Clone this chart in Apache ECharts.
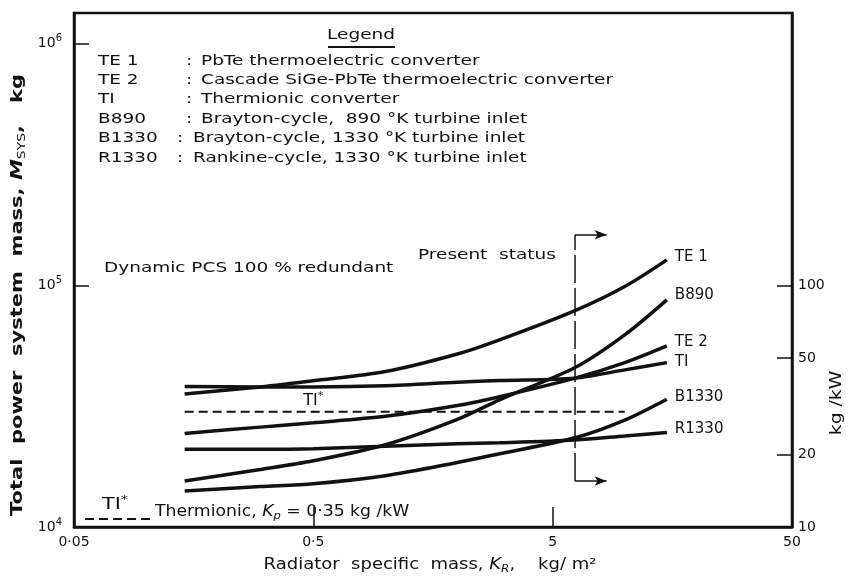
<!DOCTYPE html>
<html>
<head>
<meta charset="utf-8">
<script src="https://cdn.jsdelivr.net/npm/echarts@6/dist/echarts.min.js"></script>
<style>
  html, body { margin: 0; padding: 0; background: #fff; }
  #chart { width: 849px; height: 579px; }
</style>
</head>
<body>
<div id="chart"></div>
<script>
// radiator specific mass K_R (kg/m2) where the curves were read
const kR = [0.145, 0.3, 0.5, 1, 2, 3, 6.2, 10, 15];
// total power system mass M_SYS (kg)
const te1 = [35500, 38000, 40300, 44000, 52000, 59500, 78600, 98900, 127500];
const ti = [38100, 38000, 38000, 38400, 39700, 40400, 41300, 44700, 47900];
const te2 = [24400, 25900, 27000, 28700, 31800, 34600, 41300, 47900, 56200];
const b890 = [15500, 17300, 18800, 21900, 27900, 33600, 45700, 62400, 87100];
const b1330 = [14100, 14700, 15100, 16300, 18500, 20100, 23400, 27700, 33800];
const r1330 = [21000, 21000, 21100, 21600, 22100, 22300, 22900, 23800, 24600];
// TI* : thermionic, Kp = 0.35 kg/kW (dashed)
const tiStarX = [0.145, 0.5, 10];
const tiStarM = [30000, 30000, 30000];
// present status bracket
const statusX = 6.2;
const statusM = [15500, 162000];
const statusArrowX = 8.4;

const xTicks = [0.05, 0.5, 5, 50];
const yRange = [1e4, 1.34e6];
const rightTicks = [10, 20, 50, 100]; // kg/kW
const kWRef = 1000;

const legendRows = [
  ['TE 1', 'PbTe thermoelectric converter'],
  ['TE 2', 'Cascade SiGe-PbTe thermoelectric converter'],
  ['TI', 'Thermionic converter'],
  ['B890', 'Brayton-cycle,  890 °K turbine inlet'],
  ['B1330', 'Brayton-cycle, 1330 °K turbine inlet'],
  ['R1330', 'Rankine-cycle, 1330 °K turbine inlet']
];

const FONT = 'DejaVu Sans';
const INK = '#111';
const WIDE = 1.32; // the original lettering is much wider than DejaVu

const chart = echarts.init(document.getElementById('chart'));

const curve = (name, ys, dy) => ({
  name: name,
  type: 'line',
  xAxisIndex: 0,
  yAxisIndex: 0,
  data: kR.map((x, i) => [x, ys[i]]),
  smooth: 0.3,
  symbol: 'none',
  silent: true,
  lineStyle: { color: INK, width: 3.5 },
  endLabel: {
    show: true, formatter: name, color: INK,
    fontFamily: FONT, fontSize: 15, distance: 8, offset: [0, dy]
  },
  z: 3
});

const fmtDec = v => String(v).replace('.', '\u00b7');

const txt = (x, y, text, extra) => Object.assign({
  type: 'text', x: x, y: y, scaleX: WIDE,
  style: { text: text, font: '14px ' + FONT, fill: INK, verticalAlign: 'middle' }
}, extra || {});

const tiStarRich = {
  a: { fontSize: 16, fontFamily: FONT, color: INK, fill: INK },
  s: { fontSize: 11, fontFamily: FONT, color: INK, fill: INK, padding: [0, 0, 9, 0] }
};

// legend block
const legendGraphics = [
  txt(361, 35, 'Legend', { style: { text: 'Legend', font: '14px ' + FONT, fill: INK, align: 'center', verticalAlign: 'middle' } }),
  { type: 'line', shape: { x1: 328, y1: 47, x2: 395, y2: 47 }, style: { stroke: INK, lineWidth: 1.8 } }
];
legendRows.forEach((r, i) => {
  const y = 61 + i * 19.4;
  const long = r[0].length > 4;
  legendGraphics.push(
    txt(98, y, r[0]),
    txt(long ? 177 : 186, y, ':'),
    txt(long ? 193 : 201, y, r[1])
  );
});

chart.setOption({
  animation: false,
  backgroundColor: '#fff',
  grid: { left: 74, right: 57, top: 13, bottom: 52, show: true, borderColor: INK, borderWidth: 2.5, backgroundColor: 'transparent' },
  xAxis: [
    {
      type: 'log', logBase: 10, min: xTicks[0], max: xTicks[xTicks.length - 1],
      axisLine: { show: true, onZero: false, lineStyle: { color: INK, width: 2.5 } },
      axisTick: { show: false }, axisLabel: { show: false }, splitLine: { show: false }
    },
    {
      type: 'value', position: 'bottom',
      min: Math.log10(xTicks[0]), max: Math.log10(xTicks[xTicks.length - 1]),
      axisLine: { show: false, onZero: false },
      axisTick: { show: true, inside: true, length: 20, customValues: xTicks.map(Math.log10), lineStyle: { color: INK, width: 1.5 } },
      axisLabel: {
        show: true, customValues: xTicks.map(Math.log10), margin: 8,
        color: INK, fontFamily: FONT, fontSize: 14,
        formatter: (v, i) => {
          const s = fmtDec(+Math.pow(10, v).toPrecision(2));
          return i === 0 ? '{m|' + s + '}' : s;
        },
        rich: { m: { fontSize: 14, fontFamily: FONT, color: INK, padding: [0, 0, 0, 20] } }
      },
      splitLine: { show: false }
    }
  ],
  yAxis: [
    {
      type: 'log', logBase: 10, min: yRange[0], max: yRange[1],
      axisLine: { show: true, onZero: false, lineStyle: { color: INK, width: 2.5 } },
      axisTick: { show: true, inside: true, length: 15, lineStyle: { color: INK, width: 1.5 } },
      axisLabel: {
        margin: 12, color: INK, fontFamily: FONT,
        formatter: v => {
          const e = Math.log10(v);
          if (Math.abs(e - Math.round(e)) > 1e-6) return '';
          return '{b|10}{s|' + Math.round(e) + '}';
        },
        rich: {
          b: { fontSize: 14, fontFamily: FONT, color: INK },
          s: { fontSize: 10, fontFamily: FONT, color: INK, padding: [0, 0, 10, 0] }
        }
      },
      splitLine: { show: false }
    },
    {
      type: 'value', position: 'right',
      min: Math.log10(yRange[0] / kWRef), max: Math.log10(yRange[1] / kWRef),
      axisLine: { show: true, onZero: false, lineStyle: { color: INK, width: 2.5 } },
      axisTick: { show: true, inside: true, length: 15, customValues: rightTicks.map(Math.log10), lineStyle: { color: INK, width: 1.5 } },
      axisLabel: {
        show: true, customValues: rightTicks.map(Math.log10), margin: 6,
        color: INK, fontFamily: FONT, fontSize: 14,
        formatter: v => String(Math.round(Math.pow(10, v)))
      },
      splitLine: { show: false }
    }
  ],
  series: [
    curve('TE 1', te1, -3),
    curve('B890', b890, -5),
    curve('TE 2', te2, -4),
    curve('TI', ti, 0),
    curve('B1330', b1330, -2),
    curve('R1330', r1330, -3),
    {
      name: 'TI*', type: 'line', xAxisIndex: 0, yAxisIndex: 0, silent: true,
      data: tiStarX.map((x, i) => i === 1
        ? { value: [x, tiStarM[i]], symbol: 'circle', symbolSize: 2,
            label: { show: true, position: 'top', distance: 0, formatter: '{a|TI}{s|*}', rich: tiStarRich } }
        : { value: [x, tiStarM[i]], symbol: 'none' }),
      symbol: 'circle', symbolSize: 2, showSymbol: true,
      itemStyle: { color: INK },
      lineStyle: { color: INK, width: 2, type: [9, 5] },
      z: 2
    },
    {
      name: 'Present status', type: 'line', xAxisIndex: 0, yAxisIndex: 0, silent: true,
      data: statusM.map(m => [statusX, m]),
      symbol: 'none',
      lineStyle: { color: INK, width: 1.5, type: [28, 5] },
      markLine: {
        silent: true, symbol: ['none', 'arrow'], symbolSize: [7, 12],
        label: { show: false },
        lineStyle: { color: INK, width: 1.5, type: 'solid' },
        data: statusM.map(m => [{ coord: [statusX, m] }, { coord: [statusArrowX, m] }])
      },
      z: 2
    }
  ],
  graphic: legendGraphics.concat([
    txt(104, 268, 'Dynamic PCS 100 % redundant'),
    txt(418, 255, 'Present  status'),
    // bottom-left key for the dashed curve
    { type: 'text', x: 102, y: 505, scaleX: 1.3, style: { text: '{a|TI}{s|*}', fill: INK, verticalAlign: 'middle', rich: tiStarRich } },
    { type: 'line', shape: { x1: 85, y1: 519, x2: 152, y2: 519 }, style: { stroke: INK, lineWidth: 2, lineDash: [9, 5] } },
    { type: 'text', x: 155, y: 512, scaleX: 1.15, style: { text: '{n|Thermionic, }{i|K}{sub|p}{n| = 0\u00b735 kg /kW}', verticalAlign: 'middle',
        rich: { n: { fontSize: 15, fontFamily: FONT, fill: INK }, i: { fontSize: 15, fontFamily: FONT, fontStyle: 'italic', fill: INK },
          sub: { fontSize: 10, fontFamily: FONT, fontStyle: 'italic', fill: INK, padding: [8, 0, 0, 0] } } } },
    // axis titles
    { type: 'text', x: 18, y: 295, rotation: Math.PI / 2, scaleX: 1.4, style: {
        text: '{n|Total  power  system  mass, }{i|M}{sub|SYS}{n|,   kg}', align: 'center', verticalAlign: 'middle',
        rich: { n: { fontSize: 15, fontFamily: FONT, fontWeight: 'bold', fill: INK },
          i: { fontSize: 15, fontFamily: FONT, fontWeight: 'bold', fontStyle: 'italic', fill: INK },
          sub: { fontSize: 10, fontFamily: FONT, fill: INK, padding: [8, 0, 0, 0] } } } },
    { type: 'text', x: 430, y: 565, scaleX: 1.2, style: {
        text: '{n|Radiator  specific  mass, }{i|K}{sub|R}{n|,    kg/ m²}', align: 'center', verticalAlign: 'middle',
        rich: { n: { fontSize: 15, fontFamily: FONT, fill: INK }, i: { fontSize: 15, fontFamily: FONT, fontStyle: 'italic', fill: INK },
          sub: { fontSize: 10, fontFamily: FONT, fontStyle: 'italic', fill: INK, padding: [8, 0, 0, 0] } } } },
    { type: 'text', x: 837, y: 403, rotation: Math.PI / 2, scaleX: 1.25, style: {
        text: 'kg /kW', font: '15px ' + FONT, fill: INK, align: 'center', verticalAlign: 'middle' } }
  ])
});
</script>
</body>
</html>
